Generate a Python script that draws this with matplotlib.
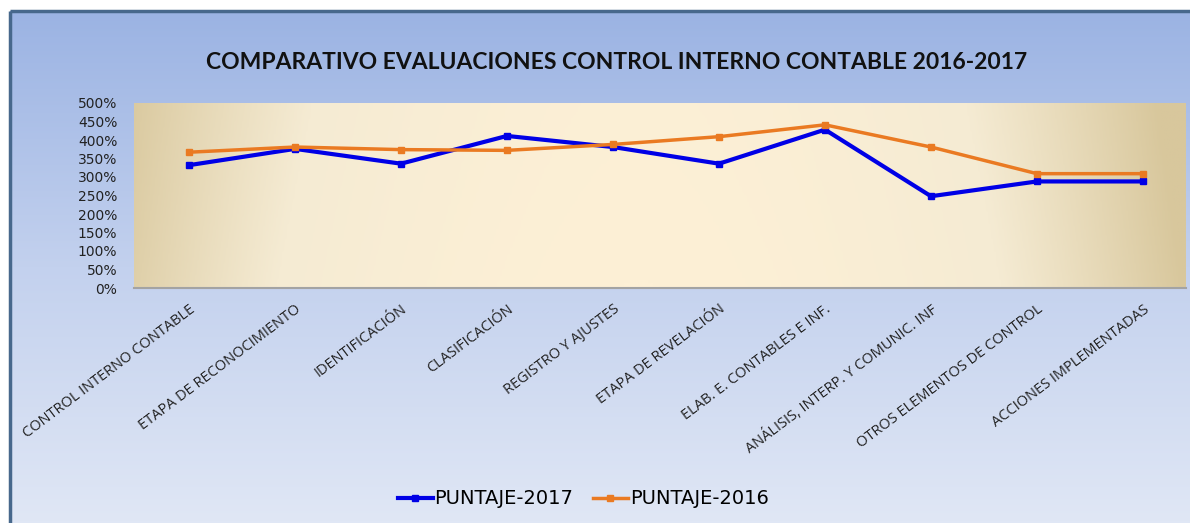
import matplotlib
matplotlib.use("Agg")
import matplotlib.pyplot as plt
from matplotlib.colors import LinearSegmentedColormap
import numpy as np

CATEGORIES = ["CONTROL INTERNO CONTABLE", "ETAPA DE RECONOCIMIENTO", "IDENTIFICACIÓN",
              "CLASIFICACIÓN", "REGISTRO Y AJUSTES", "ETAPA DE REVELACIÓN",
              "ELAB. E. CONTABLES E INF.", "ANÁLISIS, INTERP. Y COMUNIC. INF",
              "OTROS ELEMENTOS DE CONTROL", "ACCIONES IMPLEMENTADAS"]
PUNTAJE_2017 = [332, 376, 336, 411, 381, 336, 428, 248, 288, 288]
PUNTAJE_2016 = [367, 381, 374, 372, 388, 409, 441, 381, 309, 309]
Y_TICKS = [0, 50, 100, 150, 200, 250, 300, 350, 400, 450, 500]
TITLE = "COMPARATIVO EVALUACIONES CONTROL INTERNO CONTABLE 2016-2017"

W, H = 1190, 523
fig = plt.figure(figsize=(W / 100, H / 100), dpi=100)
fig.patch.set_facecolor("white")

# chart-area background: vertical blue gradient inside a framed box
bg = fig.add_axes([0, 0, 1, 1], zorder=-10)
bg.set_xlim(0, W)
bg.set_ylim(H, 0)
bg.axis("off")
bg_cmap = LinearSegmentedColormap.from_list("bg", ["#9bb3e3", "#c3d1ee", "#e0e7f5"])
grad = np.linspace(0, 1, 256).reshape(-1, 1)
bg.imshow(grad, cmap=bg_cmap, aspect="auto", extent=[10, W, H, 11], zorder=0)
bg.plot([10, W], [11, 11], color="#47688c", lw=2.5, solid_capstyle="butt", zorder=2)
bg.plot([10, 10], [11, H], color="#47688c", lw=2.5, solid_capstyle="butt", zorder=2)

left, right, top, bottom = 134, 1186, 103, 288
ax = fig.add_axes([left / W, (H - bottom) / H, (right - left) / W, (bottom - top) / H])
ax.set_facecolor("none")

# plot area: tan towards the side edges, cream over the middle
xx = np.linspace(0, 1, 400)
yy = np.linspace(0, 1, 60)
X, Y = np.meshgrid(xx, yy)
d = np.clip((np.abs(X - 0.48) / 0.52) ** 1.7 + 0.08 * (1 - Y), 0, 1)
pa_cmap = LinearSegmentedColormap.from_list("pa", ["#fdf0d6", "#f5ebd3", "#d8c79c"])
xlim = (-0.519, 9.406)
ax.imshow(d, cmap=pa_cmap, aspect="auto", extent=[xlim[0], xlim[1], 0, 500],
          origin="upper", zorder=0)

x = np.arange(len(CATEGORIES))
ax.plot(x, PUNTAJE_2017, color="#0000e6", lw=3, marker="s", ms=5,
        label="PUNTAJE-2017", zorder=3)
ax.plot(x, PUNTAJE_2016, color="#ea7a22", lw=2.5, marker="s", ms=4.5,
        label="PUNTAJE-2016", zorder=4)

ax.set_xlim(*xlim)
ax.set_ylim(0, 500)
ax.set_yticks(Y_TICKS)
ax.set_yticklabels([f"{v}%" for v in Y_TICKS], fontsize=10, color="#222222")
ax.set_xticks(x)
ax.set_xticklabels(CATEGORIES, rotation=37, ha="right", va="top",
                   rotation_mode="anchor", fontsize=10.5, family="Open Sans",
                   color="#222222")
ax.tick_params(axis="both", length=0)
ax.tick_params(axis="y", pad=12)
ax.tick_params(axis="x", pad=10)
for s in ["top", "right", "left"]:
    ax.spines[s].set_visible(False)
ax.spines["bottom"].set_color("#a3a3a3")
ax.spines["bottom"].set_linewidth(1.5)

fig.text(0.518, 1 - 62 / H, TITLE, ha="center", va="center",
         fontsize=16.5, fontweight="bold", family="Lato", color="#111111")

fig.legend(loc="center", bbox_to_anchor=(0.49, 1 - 499 / H), ncol=2,
           frameon=False, fontsize=14, handlelength=1.8, handletextpad=0.1,
           columnspacing=1.0)

fig.savefig("out.png", dpi=100)
